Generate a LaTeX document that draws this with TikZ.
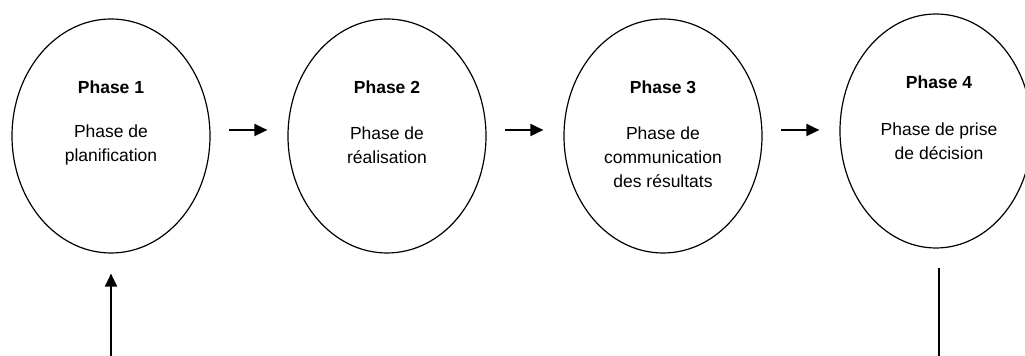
\documentclass[tikz,border=0pt]{standalone}
\usepackage{fontspec}
\setmainfont{Liberation Sans}
\usetikzlibrary{shapes.geometric,arrows.meta}

\begin{document}
\begin{tikzpicture}[x=0.5pt,y=-0.5pt,>={Triangle[length=6.5pt,width=6pt]},
  font=\fontsize{8.75}{12}\selectfont,
  phase/.style={shape=ellipse,draw,line width=0.6pt,minimum width=99pt,minimum height=117pt},
  title/.style={font=\fontsize{8.75}{12}\selectfont\bfseries},
  flow/.style={->,line width=1pt,shorten <=9pt,shorten >=10pt}]
\useasboundingbox (0,0) rectangle (1025,356);
\node (e1) at (111,136) [phase] {};
\node (e2) at (387,136) [phase] {};
\node (e3) at (663,136) [phase] {};
\node (e4) at (936,131) [phase,minimum width=96pt] {};
\node (t1) at (111,87) [title] {Phase 1};
\node (t2) at (387,87) [title] {Phase 2};
\node (t3) at (663,87) [title] {Phase 3};
\node (t4) at (939,82) [title] {Phase 4};
\node (b1) at (111,145) [align=center] {Phase de\\planification};
\node (b2) at (387,145) [align=center] {Phase de\\réalisation};
\node (b3) at (663,157) [align=center] {Phase de\\communication\\des résultats};
\node (b4) at (939,141) [align=center] {Phase de prise\\de décision};
\coordinate (in) at (111,356);
\coordinate (out) at (939,356);
\draw [flow] ([yshift=3pt]e1.east) -- ([yshift=3pt]e2.west);
\draw [flow] ([yshift=3pt]e2.east) -- ([yshift=3pt]e3.west);
\draw [flow] ([yshift=3pt]e3.east) -- ([yshift=3pt]e3.east -| e4.west);
\draw [->,line width=1pt,shorten >=10pt] (in) -- (e1.south);
\draw [-,line width=0.8pt,shorten <=9.5pt] (e4.south -| out) -- (out);
\end{tikzpicture}
\end{document}
